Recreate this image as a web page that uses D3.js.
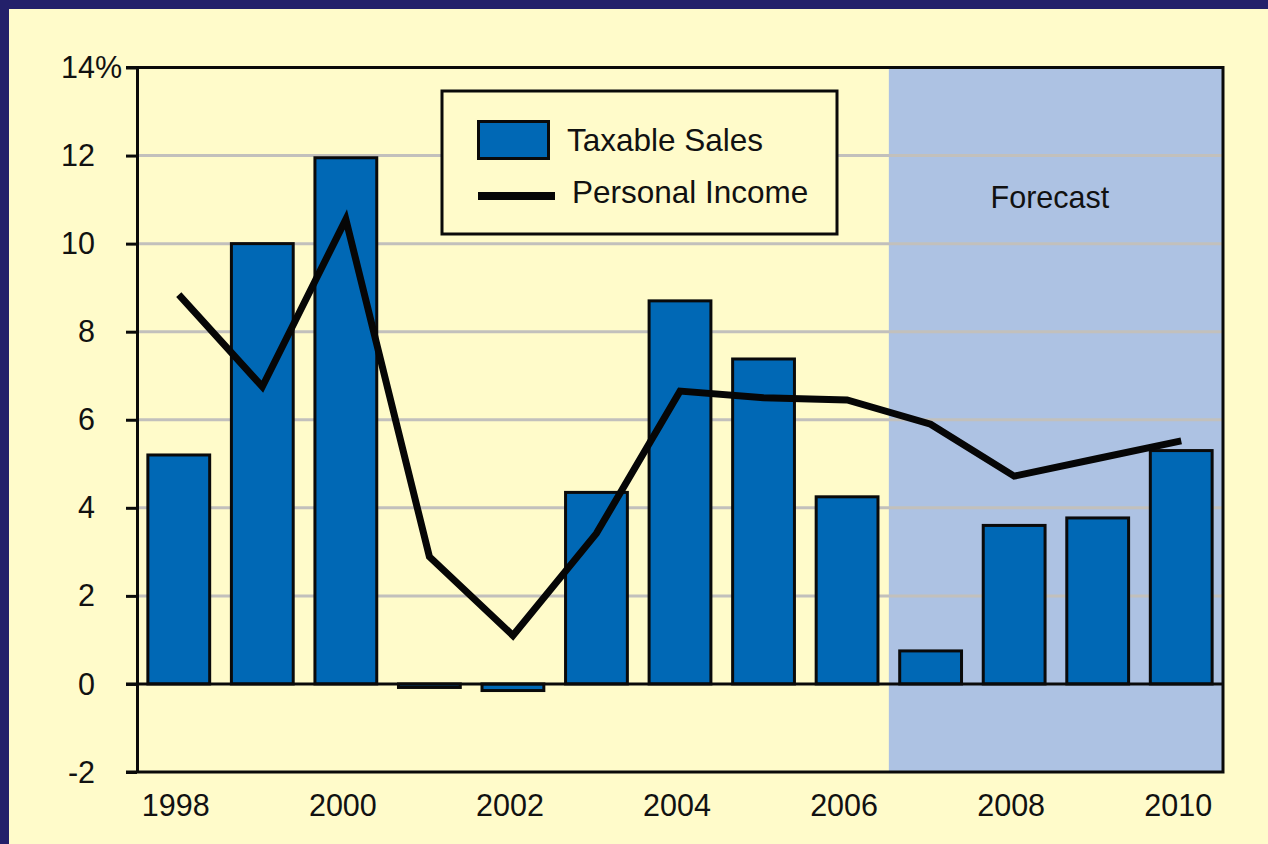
<!DOCTYPE html>
<html>
<head>
<meta charset="utf-8">
<script src="https://cdn.jsdelivr.net/npm/d3@7"></script>
<style>
  html, body { margin: 0; padding: 0; background: #fffbca; }
  svg { display: block; }
  text { font-family: "Liberation Sans", Arial, Helvetica, sans-serif; fill: #111; }
</style>
</head>
<body>
<svg id="chart" width="1268" height="844"></svg>
<script>
const years = [1998, 1999, 2000, 2001, 2002, 2003, 2004, 2005, 2006, 2007, 2008, 2009, 2010];
const taxableSales = [5.2, 10.0, 11.95, -0.08, -0.15, 4.35, 8.7, 7.38, 4.25, 0.75, 3.6, 3.77, 5.3];
const personalIncome = [8.84, 6.75, 10.55, 2.89, 1.1, 3.42, 6.65, 6.5, 6.45, 5.9, 4.72, 5.12, 5.52];
const xTickLabels = [1998, 2000, 2002, 2004, 2006, 2008, 2010];
const yTickValues = [-2, 0, 2, 4, 6, 8, 10, 12, 14];
const gridValues = [2, 4, 6, 8, 10, 12];
const forecastStartYear = 2007;
const seriesNames = ["Taxable Sales", "Personal Income"];

(function () {
const svg = d3.select("#chart");
const W = 1268, H = 844;
const pLeft = 137, pRight = 1223, pTop = 67.5, pBottom = 772;
const FONT = "Liberation Sans, Arial, sans-serif";

// background & border
svg.append("rect").attr("x", 0).attr("y", 0).attr("width", W).attr("height", H).attr("fill", "#23206a");
svg.append("rect").attr("x", 9).attr("y", 9).attr("width", W - 9).attr("height", H - 9).attr("fill", "#fffbca");

const x = d3.scaleBand().domain(years).range([pLeft, pRight]).paddingInner(0.26).paddingOuter(0.13);
const y = d3.scaleLinear().domain([-2, 14]).range([pBottom, pTop]);

// forecast region
const fx = x(forecastStartYear) - x.step() * x.paddingInner() / 2;
svg.append("rect")
  .attr("x", fx).attr("y", pTop).attr("width", pRight - fx).attr("height", pBottom - pTop)
  .attr("fill", "#adc2e3");

// grid lines
svg.append("g").selectAll("line").data(gridValues).join("line")
  .attr("x1", pLeft).attr("x2", pRight)
  .attr("y1", d => y(d)).attr("y2", d => y(d))
  .attr("stroke", "#c2c0bc").attr("stroke-width", 3);

// forecast label
svg.append("text")
  .attr("x", (fx + pRight) / 2 - 6).attr("y", 208)
  .attr("text-anchor", "middle").attr("font-size", 30.5)
  .text("Forecast");

// bars
svg.append("g").selectAll("rect").data(years).join("rect")
  .attr("x", d => x(d))
  .attr("width", x.bandwidth())
  .attr("y", (d, i) => y(Math.max(0, taxableSales[i])))
  .attr("height", (d, i) => Math.abs(y(taxableSales[i]) - y(0)))
  .attr("fill", "#0068b5")
  .attr("stroke", "#0a0a0a").attr("stroke-width", 3);

// zero line
svg.append("line")
  .attr("x1", pLeft - 11).attr("x2", pRight)
  .attr("y1", y(0)).attr("y2", y(0))
  .attr("stroke", "#0a0a0a").attr("stroke-width", 3);

// personal income line
const line = d3.line()
  .x((d, i) => x(years[i]) + x.bandwidth() / 2)
  .y(d => y(d));
svg.append("path")
  .datum(personalIncome)
  .attr("d", line)
  .attr("fill", "none")
  .attr("stroke", "#060606").attr("stroke-width", 7)
  .attr("stroke-linejoin", "miter");

// frame: top, right, bottom
svg.append("path")
  .attr("d", `M${pLeft - 11},${pTop}H${pRight}V${pBottom}H${pLeft - 11}`)
  .attr("fill", "none").attr("stroke", "#0a0a0a").attr("stroke-width", 3);

// y axis
const yAxis = d3.axisLeft(y).tickValues(yTickValues).tickSize(11).tickSizeOuter(0)
  .tickFormat(d => d);
const gy = svg.append("g").attr("transform", `translate(${pLeft},0)`).call(yAxis);
gy.select(".domain").attr("stroke", "#0a0a0a").attr("stroke-width", 3);
gy.selectAll(".tick line").attr("stroke", "#0a0a0a").attr("stroke-width", 3);
gy.selectAll(".tick text")
  .attr("x", -42).attr("dy", "0.33em")
  .attr("font-size", 30.5).attr("font-family", FONT)
  .attr("fill", "#111");
// percent sign on the top label
gy.selectAll(".tick").filter(d => d === 14).append("text")
  .attr("x", -42).attr("dy", "0.33em").attr("text-anchor", "start")
  .attr("font-size", 30.5).attr("font-family", FONT)
  .attr("fill", "#111").text("%");

// x axis labels
const xAxis = d3.axisBottom(x).tickValues(xTickLabels).tickSize(0).tickSizeOuter(0);
const gx = svg.append("g").attr("transform", `translate(0,${pBottom})`).call(xAxis);
gx.select(".domain").remove();
gx.selectAll(".tick text")
  .attr("y", 22).attr("dy", "0.71em")
  .attr("dx", -3)
  .attr("font-size", 30.5).attr("font-family", FONT)
  .attr("fill", "#111");

// legend
const lg = svg.append("g");
lg.append("rect").attr("x", 442).attr("y", 91).attr("width", 395).attr("height", 143)
  .attr("fill", "#fffbca").attr("stroke", "#0a0a0a").attr("stroke-width", 3);
lg.append("rect").attr("x", 478.5).attr("y", 121.5).attr("width", 70).attr("height", 37)
  .attr("fill", "#0068b5").attr("stroke", "#0a0a0a").attr("stroke-width", 3);
lg.append("text").attr("x", 567).attr("y", 151).attr("font-size", 31.5).text(seriesNames[0]);
lg.append("line").attr("x1", 478).attr("x2", 555).attr("y1", 196).attr("y2", 196)
  .attr("stroke", "#060606").attr("stroke-width", 8);
lg.append("text").attr("x", 572).attr("y", 203).attr("font-size", 31.5).text(seriesNames[1]);
})();
</script>
</body>
</html>
